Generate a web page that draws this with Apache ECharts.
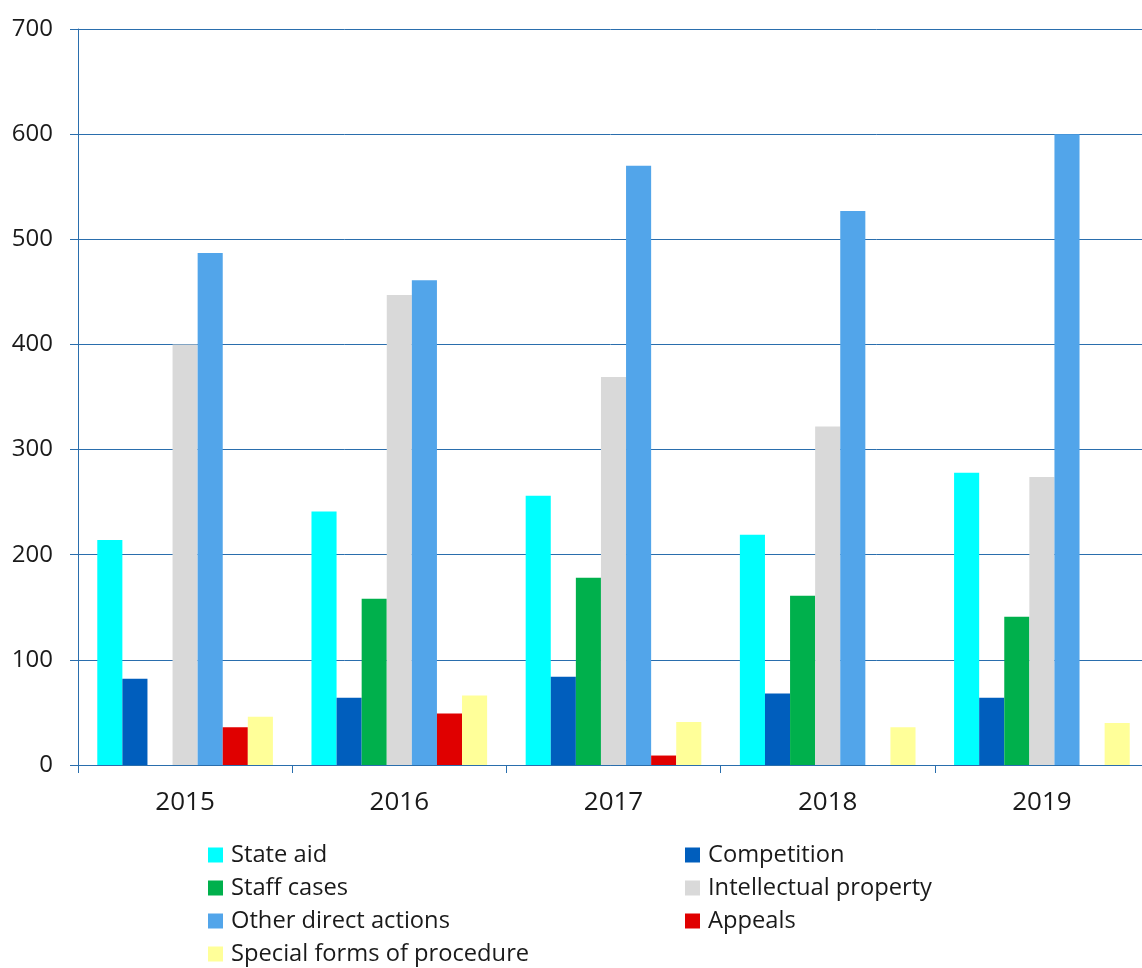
<!DOCTYPE html>
<html>
<head>
<meta charset="utf-8">
<script src="https://cdn.jsdelivr.net/npm/echarts@6/dist/echarts.min.js"></script>
<style>
html,body{margin:0;padding:0;background:#fff;overflow:hidden;}
#chart{width:1142px;height:968px;}
</style>
</head>
<body>
<div id="chart"></div>
<script>
const categories = ['2015', '2016', '2017', '2018', '2019'];
const stateAid = [214, 241, 256, 219, 278];
const competition = [82, 64, 84, 68, 64];
const staffCases = [null, 158, 178, 161, 141];
const intellectualProperty = [400, 447, 369, 322, 274];
const otherDirectActions = [487, 461, 570, 527, 600];
const appeals = [36, 49, 9, null, null];
const specialForms = [46, 66, 41, 36, 40];
const yTicks = { min: 0, max: 700, interval: 100 };

const axisBlue = '#2a6ead';
const font = '"Open Sans", "Noto Sans", sans-serif';

const seriesDefs = [
  { name: 'State aid', data: stateAid, color: '#00ffff' },
  { name: 'Competition', data: competition, color: '#005ebd' },
  { name: 'Staff cases', data: staffCases, color: '#00b04c' },
  { name: 'Intellectual property', data: intellectualProperty, color: '#d9d9d9' },
  { name: 'Other direct actions', data: otherDirectActions, color: '#52a5ea' },
  { name: 'Appeals', data: appeals, color: '#e00000' },
  { name: 'Special forms of procedure', data: specialForms, color: '#ffff99' }
];

const chart = echarts.init(document.getElementById('chart'), null, { renderer: 'canvas' });
const legendCommon = {
  orient: 'vertical',
  top: 838,
  height: 140,
  itemWidth: 15,
  itemHeight: 15,
  itemGap: 9,
  icon: 'rect',
  textStyle: { fontFamily: font, fontSize: 23.7, color: '#1a1a1a', lineHeight: 24, padding: [0, 0, 0, 3] },
  selectedMode: false
};
chart.setOption({
  animation: false,
  backgroundColor: '#ffffff',
  grid: { left: 78, top: 29, width: 1071, height: 736, containLabel: false, outerBoundsMode: 'none' },
  legend: [
    Object.assign({ left: 203, data: ['State aid', 'Staff cases', 'Other direct actions', 'Special forms of procedure'] }, legendCommon),
    Object.assign({ left: 680, data: ['Competition', 'Intellectual property', 'Appeals'] }, legendCommon)
  ],
  xAxis: {
    type: 'category',
    data: categories,
    axisLine: { show: true, lineStyle: { color: axisBlue, width: 1 } },
    axisTick: { show: true, alignWithLabel: false, length: 8, lineStyle: { color: axisBlue } },
    axisLabel: { fontFamily: font, fontSize: 26, color: '#1a1a1a', margin: 25 }
  },
  yAxis: {
    type: 'value',
    min: yTicks.min,
    max: yTicks.max,
    interval: yTicks.interval,
    axisLine: { show: true, lineStyle: { color: axisBlue, width: 1 } },
    axisTick: { show: true, length: 8, lineStyle: { color: axisBlue } },
    splitLine: { show: true, lineStyle: { color: axisBlue, width: 1 } },
    axisLabel: { fontFamily: font, fontSize: 24, color: '#1a1a1a', margin: 25 }
  },
  series: seriesDefs.map(s => ({
    name: s.name,
    type: 'bar',
    data: s.data,
    barGap: '0%',
    barCategoryGap: '18%',
    itemStyle: { color: s.color }
  }))
});
</script>
</body>
</html>
